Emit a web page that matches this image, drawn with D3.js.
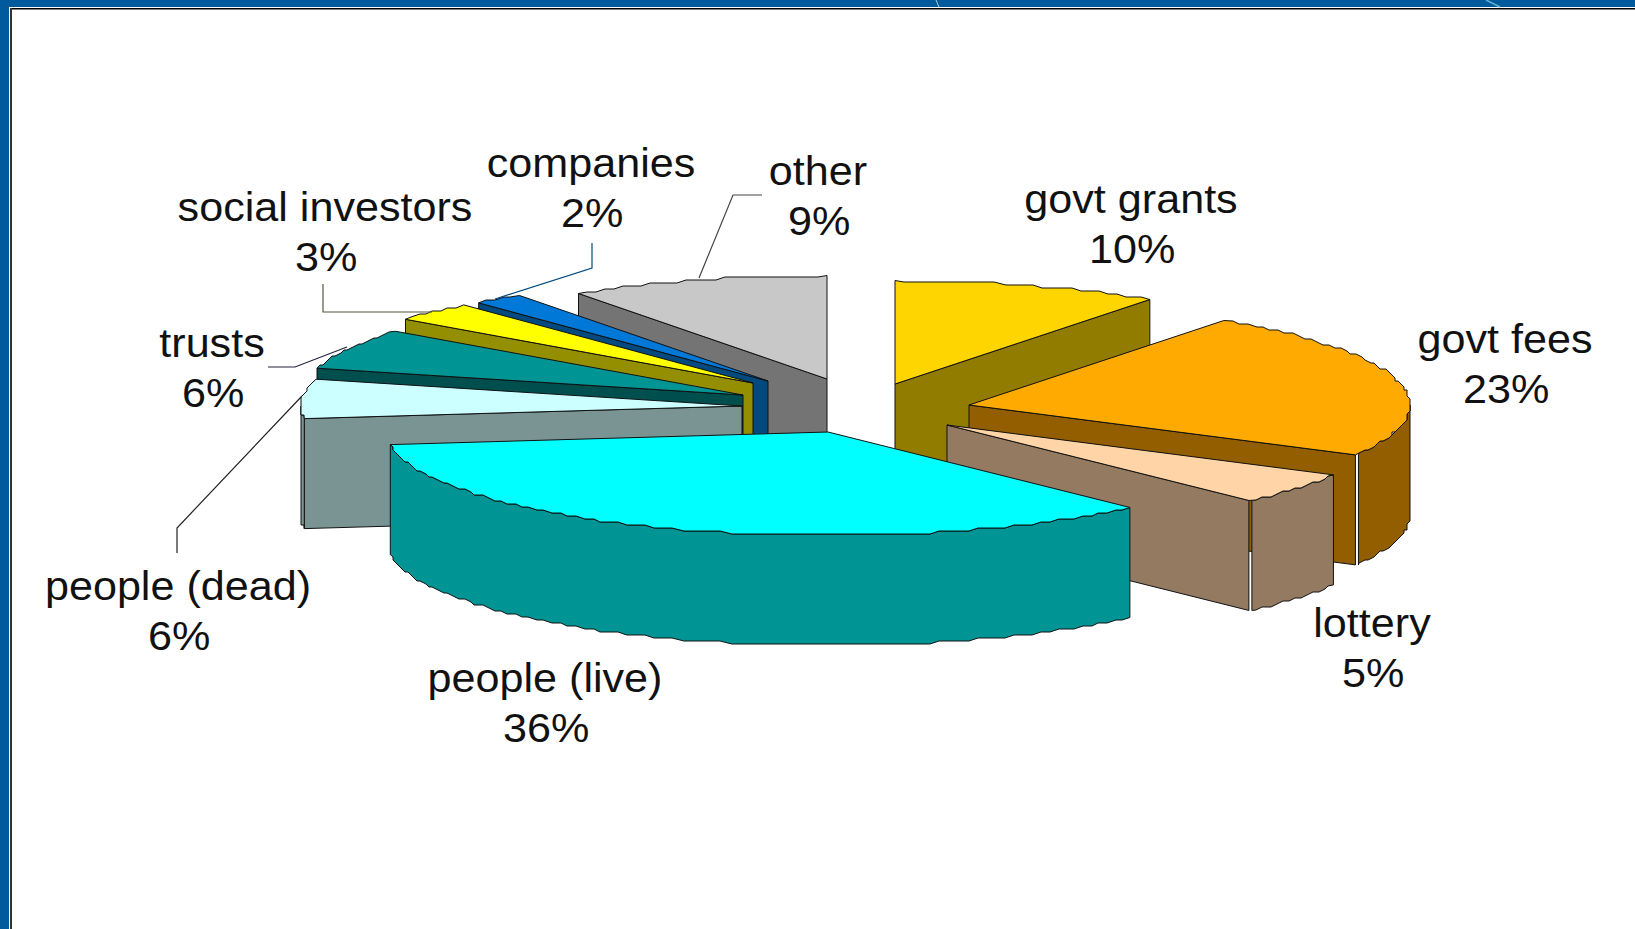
<!DOCTYPE html>
<html>
<head>
<meta charset="utf-8">
<script src="https://cdn.jsdelivr.net/npm/d3@7/dist/d3.min.js"></script>
<style>
  html, body { margin: 0; padding: 0; background: #fff; overflow: hidden; }
  svg { display: block; }
  text { font-family: "Liberation Sans", Arial, sans-serif; fill: #111; }
</style>
</head>
<body>
<svg id="chart" width="1635" height="929"></svg>
<script>
// Funding sources, clockwise from twelve o'clock
const categories = ["govt grants", "govt fees", "lottery", "people (live)", "people (dead)",
                    "trusts", "social investors", "companies", "other"];
const shares = [10, 23, 5, 36, 6, 6, 3, 2, 9];

// Top face and side wall colours for each slice
const topColours = ["#ffd500", "#ffaa00", "#ffd5a8", "#00ffff", "#ccffff",
                    "#009494", "#ffff00", "#0078d7", "#c8c8c8"];
const wallColours = ["#917c00", "#925e00", "#937a60", "#009494", "#7a9494",
                     "#004f4f", "#948f00", "#004a80", "#747474"];

// Explosion of each slice away from the pie centre, in pixels
const explodeX = [30, 104, 82, -37, -123, -122, -112, -97, -38];
const explodeY = [-21, 0, 20, 27, 1, -10, -22, -24, -26];

// Back-to-front paint order
const paintOrder = ["other", "companies", "social investors", "trusts", "people (dead)",
                    "govt grants", "govt fees", "lottery", "people (live)"];

// Label placement: centre x and first baseline, second line sits below it
const labelX = [1131, 1505, 1372, 545, 178, 212, 325, 591, 818];
const labelY = [213, 353, 637, 692, 600, 357, 221, 177, 185];

// Leader lines from labels to slices
const leaders = [
  { colour: "#444", pts: [[699, 278], [733, 195], [762, 195]] },
  { colour: "#004a80", pts: [[495, 299], [592, 268], [592, 243]] },
  { colour: "#55553a", pts: [[323, 284], [323, 312], [432, 312]] },
  { colour: "#224", pts: [[268, 367], [295, 367], [347, 347]] },
  { colour: "#222", pts: [[177, 553], [177, 528], [302, 396]] }
];

const centre = { x: 865, y: 405 };
const radiusX = 441, radiusY = 103.5, depth = 110;
const gap = 3;

const svg = d3.select("#chart");

// Page frame
svg.append("rect").attr("width", 1635).attr("height", 929).attr("fill", "#fff");
svg.append("rect").attr("width", 1635).attr("height", 7).attr("fill", "#005a9c");
svg.append("rect").attr("width", 9).attr("height", 929).attr("fill", "#005a9c");
svg.append("rect").attr("x", 10).attr("y", 8).attr("width", 1625).attr("height", 1.5).attr("fill", "#000");
svg.append("rect").attr("x", 10).attr("y", 8).attr("width", 2).attr("height", 921).attr("fill", "#333");
svg.append("line").attr("x1", 936).attr("y1", 0).attr("x2", 939).attr("y2", 7)
  .attr("stroke", "#a9c9dc").attr("stroke-width", 1);
svg.append("line").attr("x1", 1486).attr("y1", 0).attr("x2", 1500).attr("y2", 7)
  .attr("stroke", "#5fb0d0").attr("stroke-width", 1.5);

// Slice angles, clockwise from north
const pie = d3.pie().sort(null).value(d => d);
const arcs = pie(shares);
const deg = r => r * 180 / Math.PI;

// Viewing perspective shifts the slice boundaries slightly on screen
const viewAngle = d3.scaleLinear()
  .domain([0, 36, 118.8, 136.8, 180, 266.4, 288, 309.6, 320.4, 327.6, 360])
  .range([0, 35.3, 118.8, 136.8, 180, 263, 285, 308, 319, 325.7, 360]);

const rad = d => d * Math.PI / 180;
const ellipseX = d3.scaleLinear().domain([-1, 1]).range([-radiusX, radiusX]);
const ellipseY = d3.scaleLinear().domain([-1, 1]).range([-radiusY, radiusY]);

function project(d) {
  return [ellipseX(Math.sin(rad(d))), ellipseY(-Math.cos(rad(d)))];
}

// The curved edge is drawn on a coarse grid, giving it a stepped outline
function steppedArc(from, to) {
  const n = Math.max(1, Math.round(Math.abs(to - from) / 1.3));
  const pts = [project(from)];
  for (let i = 1; i < n; i++) {
    const [x, y] = project(from + (to - from) * i / n);
    pts.push([Math.round(x / 3) * 3, Math.round(y / 3) * 3]);
  }
  pts.push(project(to));
  return pts;
}

const polygon = d3.line();

arcs.forEach((a, i) => { a.name = categories[i]; a.index0 = i; });

paintOrder.forEach(name => {
  const a = arcs.find(s => s.name === name);
  const i = a.index0;
  const t0 = viewAngle(deg(a.startAngle)), t1 = viewAngle(deg(a.endAngle));
  const g = svg.append("g")
    .attr("transform", `translate(${centre.x + explodeX[i]},${centre.y + explodeY[i]})`)
    .attr("stroke", "#111").attr("stroke-width", 1).attr("stroke-linejoin", "miter");

  const down = p => [p[0], p[1] + depth];

  // Cut faces turned toward the viewer
  [[t0, t0 - 90], [t1, t1 + 90]].forEach(([edge, normal]) => {
    if (Math.cos(rad(normal)) < -0.01) {
      const p = project(edge);
      g.append("path")
        .attr("d", polygon([[0, 0], p, down(p), [0, depth]]) + "Z")
        .attr("fill", wallColours[i]);
    }
  });

  // Outer rim on the near half of the ellipse
  const r0 = Math.max(t0, 90), r1 = Math.min(t1, 270);
  if (r1 > r0) {
    const rim = steppedArc(r0, r1);
    // Right-hand slices leave a thin gap between cut face and rim
    if (r1 === t1 && t1 < 140) {
      rim[rim.length - 1] = [rim[rim.length - 1][0] + gap, rim[rim.length - 1][1]];
    }
    g.append("path")
      .attr("d", polygon(rim.concat(rim.slice().reverse().map(down))) + "Z")
      .attr("fill", wallColours[i]);
  }

  // Top face
  g.append("path")
    .attr("d", polygon([[0, 0]].concat(steppedArc(t0, t1))) + "Z")
    .attr("fill", topColours[i]);
});

// Leader lines
leaders.forEach(l => {
  svg.append("path").attr("d", polygon(l.pts))
    .attr("fill", "none").attr("stroke", l.colour).attr("stroke-width", 1.2);
});

// Two-line labels: name and share, set slightly wide
const stretch = 1.065;
categories.forEach((name, i) => {
  const g = svg.append("g").attr("transform", `translate(${labelX[i]},${labelY[i]}) scale(${stretch},1)`);
  g.append("text").attr("text-anchor", "middle").attr("font-size", 40.5).text(name);
  g.append("text").attr("text-anchor", "middle").attr("font-size", 40.5)
    .attr("x", 1).attr("y", 50).text(shares[i] + "%");
});
</script>
</body>
</html>
